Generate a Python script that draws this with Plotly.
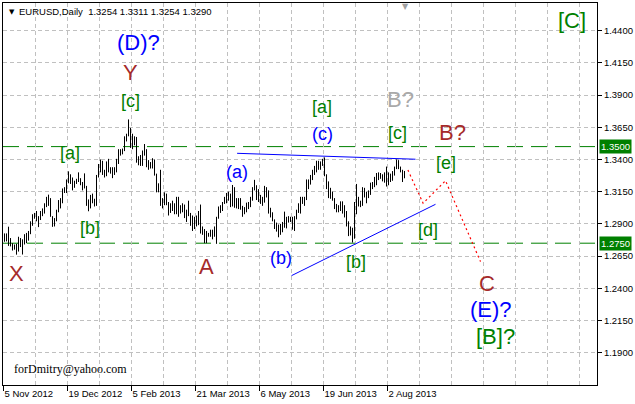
import plotly.graph_objects as go

# ---------------- data ----------------
symbol = "EURUSD,Daily"

opens = [
    # Nov 2012
    1.2810,1.2780,1.2810,1.2760,1.2745,1.2711,1.2710,1.2710,1.2740,1.2775,1.2745,1.2810,1.2800,1.2830,1.2900,1.2975,1.2965,1.2945,1.2945,1.2975,
    # Dec 2012
    1.2985,1.3045,1.3105,1.3070,1.2955,1.2925,1.2935,1.3000,1.3075,1.3075,1.3160,1.3165,1.3225,1.3265,1.3240,1.3190,1.3215,1.3240,1.3240,1.3215,
    # Jan 2013
    1.3190,1.3185,1.3050,1.3065,1.3115,1.3080,1.3065,1.3270,1.3350,1.3385,1.3305,1.3285,1.3380,1.3315,1.3320,1.3315,1.3315,1.3385,1.3460,1.3455,1.3470,1.3570,
    # Feb 2013
    1.3580,1.3640,1.3510,1.3525,1.3530,1.3400,1.3365,1.3360,1.3455,1.3460,1.3360,1.3365,1.3365,1.3390,1.3280,1.3190,1.3190,1.3060,1.3060,1.3050,
    # Mar 2013
    1.3055,1.3020,1.3020,1.3050,1.2985,1.3100,1.3000,1.3030,1.3040,1.2960,1.2970,1.2900,1.2960,1.2870,1.2950,1.2905,1.2990,1.2860,1.2850,1.2780,1.2820,
    # Apr 2013
    1.2820,1.2850,1.2815,1.2845,1.2950,1.2995,1.3040,1.3065,1.3080,1.3105,1.3110,1.3045,1.3180,1.3040,1.3045,1.3065,1.3030,1.2995,1.3000,1.3025,1.3030,1.3095,
    # May 2013
    1.3170,1.3185,1.3100,1.3110,1.3090,1.3070,1.3180,1.3155,1.2990,1.2970,1.2925,1.2885,1.2880,1.2835,1.2860,1.2900,1.2915,1.2930,1.2930,1.2940,1.2860,1.2950,1.3000,
    # Jun 2013
    1.2995,1.3080,1.3085,1.3090,1.3225,1.3220,1.3260,1.3320,1.3340,1.3340,1.3350,1.3360,1.3390,1.3280,1.3220,1.3120,1.3120,1.3085,1.3030,1.3030,
    # Jul 2013
    1.3010,1.3065,1.2990,1.2990,1.2910,1.2830,1.2860,1.2790,1.2980,1.3100,1.3070,1.3060,1.3160,1.3150,1.3110,1.3140,1.3210,1.3220,1.3220,1.3280,1.3280,1.3270,1.3260,
    # Aug 2013
    1.3300,1.3220,1.3280,1.3260,1.3300,1.3340,1.3380,1.3340,1.3310,1.3254,
]
highs = [
    1.2826,1.2826,1.2878,1.2790,1.2750,1.2740,1.2745,1.2800,1.2790,1.2780,1.2820,1.2830,1.2845,1.2920,1.2975,1.2985,1.3000,1.2960,1.3000,1.3020,
    1.3060,1.3110,1.3127,1.3100,1.2960,1.2945,1.3010,1.3085,1.3100,1.3175,1.3185,1.3245,1.3308,1.3285,1.3260,1.3235,1.3250,1.3300,1.3255,1.3225,
    1.3292,1.3195,1.3090,1.3125,1.3135,1.3095,1.3280,1.3365,1.3400,1.3390,1.3320,1.3385,1.3405,1.3340,1.3340,1.3340,1.3405,1.3480,1.3480,1.3485,1.3580,1.3600,
    1.3711,1.3645,1.3600,1.3580,1.3575,1.3425,1.3435,1.3470,1.3520,1.3480,1.3395,1.3380,1.3410,1.3400,1.3290,1.3215,1.3320,1.3100,1.3145,1.3135,
    1.3070,1.3060,1.3080,1.3060,1.3110,1.3110,1.3045,1.3060,1.3050,1.3010,1.3080,1.2985,1.2965,1.2955,1.2965,1.3000,1.3050,1.2880,1.2860,1.2845,1.2830,
    1.2855,1.2855,1.2880,1.2955,1.3035,1.3045,1.3070,1.3110,1.3140,1.3150,1.3135,1.3202,1.3185,1.3100,1.3100,1.3100,1.3040,1.3030,1.3065,1.3070,1.3110,1.3185,
    1.3242,1.3200,1.3170,1.3125,1.3110,1.3195,1.3185,1.3160,1.3025,1.2990,1.2935,1.2910,1.2895,1.2900,1.2915,1.2995,1.2955,1.2960,1.2955,1.2955,1.2960,1.3010,1.3060,
    1.3110,1.3110,1.3110,1.3245,1.3245,1.3280,1.3320,1.3350,1.3390,1.3390,1.3385,1.3405,1.3416,1.3285,1.3230,1.3180,1.3150,1.3100,1.3055,1.3045,
    1.3075,1.3075,1.3045,1.3000,1.2920,1.2880,1.2870,1.3070,1.3210,1.3110,1.3080,1.3185,1.3180,1.3150,1.3160,1.3220,1.3225,1.3265,1.3295,1.3300,1.3295,1.3285,1.3300,
    1.3345,1.3300,1.3290,1.3310,1.3345,1.3400,1.3395,1.3345,1.3320,1.3311,
]
lows = [
    1.2761,1.2764,1.2729,1.2725,1.2693,1.2700,1.2661,1.2685,1.2720,1.2662,1.2740,1.2750,1.2770,1.2820,1.2885,1.2940,1.2920,1.2875,1.2930,1.2960,
    1.2980,1.3030,1.3040,1.2955,1.2877,1.2880,1.2920,1.2990,1.3020,1.3060,1.3140,1.3140,1.3215,1.3210,1.3160,1.3180,1.3210,1.3225,1.3200,1.3160,
    1.3175,1.3040,1.2998,1.3020,1.3060,1.3035,1.3040,1.3260,1.3300,1.3280,1.3260,1.3270,1.3300,1.3290,1.3255,1.3280,1.3300,1.3365,1.3430,1.3440,1.3465,1.3540,
    1.3580,1.3490,1.3480,1.3510,1.3375,1.3355,1.3350,1.3350,1.3430,1.3340,1.3320,1.3330,1.3330,1.3275,1.3145,1.3145,1.3040,1.3020,1.3045,1.3045,
    1.2965,1.2985,1.3000,1.2975,1.2975,1.2955,1.2980,1.2990,1.2945,1.2915,1.2960,1.2885,1.2845,1.2860,1.2880,1.2890,1.2825,1.2815,1.2750,1.2750,1.2800,
    1.2800,1.2780,1.2800,1.2745,1.2940,1.2985,1.3000,1.3055,1.3060,1.3080,1.3030,1.3035,1.3025,1.3020,1.3015,1.3010,1.2955,1.2975,1.2990,1.3015,1.3030,1.3080,
    1.3160,1.3085,1.3070,1.3055,1.3040,1.3065,1.3105,1.2980,1.2950,1.2920,1.2860,1.2840,1.2796,1.2815,1.2835,1.2870,1.2865,1.2910,1.2915,1.2855,1.2845,1.2935,1.2985,
    1.2980,1.3055,1.3040,1.3085,1.3170,1.3205,1.3240,1.3280,1.3300,1.3320,1.3320,1.3350,1.3270,1.3170,1.3100,1.3095,1.3080,1.3015,1.2990,1.2990,
    1.3000,1.2980,1.2950,1.2880,1.2805,1.2810,1.2755,1.2785,1.2975,1.3035,1.3030,1.3040,1.3105,1.3060,1.3100,1.3125,1.3170,1.3185,1.3200,1.3240,1.3250,1.3230,1.3220,
    1.3190,1.3200,1.3225,1.3235,1.3275,1.3325,1.3325,1.3300,1.3225,1.3254,
]
closes = [
    1.2780,1.2810,1.2760,1.2745,1.2711,1.2710,1.2710,1.2740,1.2775,1.2745,1.2810,1.2800,1.2830,1.2900,1.2975,1.2965,1.2945,1.2945,1.2975,1.2985,
    1.3045,1.3105,1.3070,1.2955,1.2925,1.2935,1.3000,1.3075,1.3075,1.3160,1.3165,1.3225,1.3265,1.3240,1.3190,1.3215,1.3240,1.3240,1.3215,1.3190,
    1.3185,1.3050,1.3065,1.3115,1.3080,1.3065,1.3270,1.3350,1.3385,1.3305,1.3285,1.3380,1.3315,1.3320,1.3315,1.3315,1.3385,1.3460,1.3455,1.3470,1.3570,1.3580,
    1.3640,1.3510,1.3525,1.3530,1.3400,1.3365,1.3360,1.3455,1.3460,1.3360,1.3365,1.3365,1.3390,1.3280,1.3190,1.3190,1.3060,1.3060,1.3050,1.3055,
    1.3020,1.3020,1.3050,1.2985,1.3100,1.3000,1.3030,1.3040,1.2960,1.2970,1.3075,1.2960,1.2870,1.2950,1.2905,1.2990,1.2860,1.2850,1.2780,1.2820,1.2820,
    1.2850,1.2815,1.2845,1.2950,1.2995,1.3040,1.3065,1.3080,1.3105,1.3110,1.3045,1.3180,1.3040,1.3045,1.3065,1.3030,1.2995,1.3000,1.3025,1.3030,1.3095,1.3170,
    1.3185,1.3100,1.3110,1.3090,1.3070,1.3180,1.3155,1.2990,1.2970,1.2925,1.2885,1.2880,1.2835,1.2860,1.2900,1.2915,1.2930,1.2930,1.2940,1.2860,1.2950,1.3000,1.2995,
    1.3080,1.3085,1.3090,1.3225,1.3220,1.3260,1.3320,1.3340,1.3340,1.3350,1.3360,1.3390,1.3280,1.3220,1.3120,1.3120,1.3085,1.3030,1.3030,1.3010,
    1.3065,1.2990,1.2990,1.2910,1.2830,1.2860,1.2790,1.2980,1.3100,1.3070,1.3060,1.3160,1.3150,1.3110,1.3140,1.3210,1.3220,1.3220,1.3280,1.3280,1.3270,1.3260,1.3300,
    1.3220,1.3280,1.3260,1.3300,1.3340,1.3380,1.3340,1.3310,1.3255,1.3290,
]
bar_index = list(range(len(closes)))

# date tick labels (every 32 bars)
date_tick_index = [0, 32, 64, 96, 128, 160, 192]
date_tick_labels = ["5 Nov 2012", "19 Dec 2012", "5 Feb 2013", "21 Mar 2013",
                    "6 May 2013", "19 Jun 2013", "2 Aug 2013"]
price_ticks = [1.19, 1.215, 1.24, 1.265, 1.29, 1.315, 1.34, 1.365, 1.39, 1.415, 1.44]

# horizontal levels
levels = [1.3500, 1.2750]

# trend lines (bar index, price)
upper_line_x = [116.3, 205.5]
upper_line_y = [1.3448, 1.3402]
lower_line_x = [143.5, 215.5]
lower_line_y = [1.2498, 1.3052]
forecast_x = [201.7, 209.3, 220.5, 238.0]
forecast_y = [1.3318, 1.3060, 1.3235, 1.2607]

# wave labels: text, bar index, price, colour, size
BLUE, BROWN, GREEN, GRAY = "#0000FF", "#A52A2A", "#008000", "#A9A9A9"
wave_text  = ["(D)?", "Y", "[c]", "[a]", "[b]", "X", "A", "(a)", "(b)", "[a]", "(c)",
              "[b]", "B?", "[c]", "B?", "[e]", "[d]", "C", "(E)?", "[B]?", "[C]"]
wave_x     = [67, 63, 63, 32.5, 42.5, 6, 101, 116.3, 138, 158.5, 158.9,
              175.5, 198, 196.3, 223.9, 220.5, 211.5, 241, 243.4, 245.5, 283.9]
wave_y     = [1.4312, 1.4079, 1.3854, 1.3450, 1.2868, 1.2511, 1.2573, 1.3305, 1.2635, 1.3808, 1.3598,
              1.2604, 1.3862, 1.3606, 1.3606, 1.3375, 1.2853, 1.2441, 1.2232, 1.2022, 1.4483]
wave_color = [BLUE, BROWN, GREEN, GREEN, GREEN, BROWN, BROWN, BLUE, BLUE, GREEN, BLUE,
              GREEN, GRAY, GREEN, BROWN, GREEN, GREEN, BROWN, BLUE, GREEN, GREEN]
wave_size  = [22, 22, 18, 18, 18, 22, 22, 18, 18, 18, 18,
              18, 22, 18, 22, 18, 18, 22, 22, 22, 22]

# ---------------- figure ----------------
FONT = "Liberation Sans, Arial, sans-serif"
fig = go.Figure()

fig.add_trace(go.Ohlc(
    x=bar_index, open=opens, high=highs, low=lows, close=closes,
    increasing=dict(line=dict(color="black", width=1)),
    decreasing=dict(line=dict(color="black", width=1)),
    tickwidth=0, showlegend=False, hoverinfo="skip"))

for lv in levels:
    fig.add_shape(type="line", xref="paper", x0=0, x1=1, yref="y", y0=lv, y1=lv,
                  line=dict(color=GREEN, width=1, dash="16px,8px"), layer="below")

fig.add_trace(go.Scatter(x=upper_line_x, y=upper_line_y, mode="lines",
                         line=dict(color=BLUE, width=1), showlegend=False, hoverinfo="skip"))
fig.add_trace(go.Scatter(x=lower_line_x, y=lower_line_y, mode="lines",
                         line=dict(color=BLUE, width=1), showlegend=False, hoverinfo="skip"))
fig.add_trace(go.Scatter(x=forecast_x, y=forecast_y, mode="lines",
                         line=dict(color="#FF0000", width=1.2, dash="2px,3px"),
                         showlegend=False, hoverinfo="skip"))

annotations = []
for t, x, y, c, s in zip(wave_text, wave_x, wave_y, wave_color, wave_size):
    annotations.append(dict(x=x, y=y, xref="x", yref="y", text=t, showarrow=False,
                            font=dict(family=FONT, size=s, color=c),
                            xanchor="center", yanchor="middle"))

# level labels on the price scale
for lv in levels:
    annotations.append(dict(x=1, y=lv, xref="paper", yref="y", text=f"{lv:.4f}",
                            showarrow=False, xanchor="left", yanchor="middle", xshift=2,
                            bgcolor=GREEN, borderpad=1,
                            font=dict(family=FONT, size=9.5, color="white")))

# chart header
header = f"{symbol}\u00a0\u00a0{opens[-1]:.4f} {highs[-1]:.4f} {lows[-1]:.4f} {closes[-1]:.4f}"
annotations.append(dict(x=0, y=1, xref="paper", yref="paper", text="\u25bc",
                        showarrow=False, xanchor="left", yanchor="top", xshift=4, yshift=-3,
                        font=dict(family="DejaVu Sans", size=7, color="black")))
annotations.append(dict(x=0, y=1, xref="paper", yref="paper", text=header,
                        showarrow=False, xanchor="left", yanchor="top", xshift=14, yshift=-1,
                        font=dict(family=FONT, size=9.5, color="black")))
# chart shift marker
annotations.append(dict(x=0.6768, y=1, xref="paper", yref="paper", text="\u25bc",
                        showarrow=False, xanchor="center", yanchor="top", yshift=3,
                        font=dict(family="DejaVu Sans", size=8, color="#A0A0A0")))
# author
annotations.append(dict(x=0.0152, y=0.042, xref="paper", yref="paper", text="forDmitry@yahoo.com",
                        showarrow=False, xanchor="left", yanchor="middle",
                        font=dict(family="Liberation Serif, Times New Roman, serif", size=12, color="black")))

grid = dict(gridcolor="#C0C0C0", gridwidth=1, griddash="4px,3px")

fig.update_layout(
    width=635, height=404,
    margin=dict(l=3, r=38, t=3, b=19, pad=0),
    paper_bgcolor="white", plot_bgcolor="white",
    template="none",
    showlegend=False,
    annotations=annotations,
    xaxis=dict(range=[-0.75, 296.25], rangeslider=dict(visible=False),
               tickmode="array", tickvals=[i - 0.5 for i in date_tick_index],
               ticktext=date_tick_labels, ticks="outside", ticklen=5, tickcolor="black",
               ticklabelposition="outside right",
               tickfont=dict(family=FONT, size=9.5, color="black"),
               showgrid=True, **grid,
               minor=dict(tickmode="array", tickvals=[k * 16 - 0.5 for k in range(19)],
                          showgrid=True, ticks="", **grid),
               showline=True, linecolor="black", linewidth=1, mirror=True,
               zeroline=False, automargin=False, fixedrange=True),
    yaxis=dict(range=[1.1649, 1.4615], side="right",
               tickmode="array", tickvals=price_ticks,
               ticktext=[f"{v:.4f}" for v in price_ticks],
               ticks="outside", ticklen=4, tickcolor="black",
               tickfont=dict(family=FONT, size=9.5, color="black"),
               showgrid=True, **grid,
               showline=True, linecolor="black", linewidth=1, mirror=True,
               zeroline=False, automargin=False, fixedrange=True),
)

fig.write_html("out.html", config={"displayModeBar": False, "staticPlot": True},
               post_script="document.body.style.margin='0';document.body.style.overflow='hidden';")
